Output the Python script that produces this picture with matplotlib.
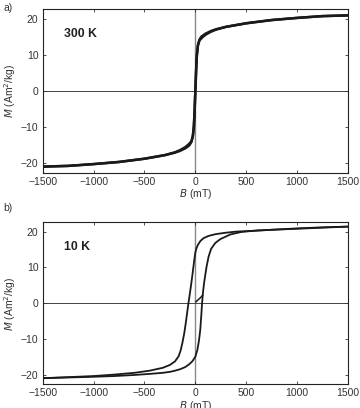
import matplotlib
matplotlib.use("Agg")
import matplotlib.pyplot as plt

plt.rcParams['font.family'] = ['Liberation Sans', 'DejaVu Sans']

# 300 K loop (descending and ascending branches)
B300_down = [1500, 1250, 1000, 750, 500, 300, 200, 150, 100, 60, 40, 25, 15, 8, 2, -3, -8, -15, -25, -40, -70, -100, -150, -200, -300, -500, -750, -1000, -1250, -1500]
M300_down = [21.1, 20.9, 20.4, 19.8, 18.9, 17.9, 17.2, 16.7, 16.0, 15.2, 14.3, 12.8, 10.0, 6.0, 1.5, -2.0, -6.0, -10.0, -12.6, -14.1, -15.0, -15.7, -16.5, -17.1, -17.9, -18.9, -19.8, -20.4, -20.9, -21.1]
B300_up = [-1500, -1250, -1000, -750, -500, -300, -200, -150, -100, -60, -40, -25, -15, -8, -2, 3, 8, 15, 25, 40, 70, 100, 150, 200, 300, 500, 750, 1000, 1250, 1500]
M300_up = [-21.1, -20.9, -20.4, -19.8, -18.9, -17.9, -17.2, -16.7, -16.0, -15.2, -14.3, -12.8, -10.0, -6.0, -1.5, 2.0, 6.0, 10.0, 12.6, 14.1, 15.0, 15.7, 16.5, 17.1, 17.9, 18.9, 19.8, 20.4, 20.9, 21.1]

# 10 K loop
B10_virgin = [5, 20, 40, 58, 72]
M10_virgin = [0.4, 0.8, 1.3, 1.8, 2.3]
B10_down = [1500, 1250, 1000, 750, 550, 400, 300, 200, 130, 82, 50, 25, 10, 0, -12, -25, -40, -55, -68, -80, -94, -110, -127, -145, -165, -200, -250, -320, -450, -600, -800, -1000, -1250, -1500]
M10_down = [21.4, 21.1, 20.8, 20.5, 20.2, 20.0, 19.7, 19.3, 18.8, 18.2, 17.4, 16.3, 15.3, 14.2, 11.8, 8.8, 5.5, 2.5, 0.0, -2.5, -5.5, -8.5, -11.0, -13.2, -14.8, -16.2, -17.2, -18.0, -18.8, -19.4, -19.9, -20.3, -20.6, -20.9]
B10_up = [-1500, -1250, -1000, -800, -600, -450, -320, -245, -200, -150, -100, -60, -30, 0, 20, 35, 48, 58, 66, 75, 85, 97, 110, 130, 155, 195, 245, 343, 450, 600, 800, 1000, 1250, 1500]
M10_up = [-20.9, -20.7, -20.5, -20.3, -20.0, -19.7, -19.4, -19.1, -18.8, -18.4, -17.8, -17.0, -16.2, -14.9, -13.0, -10.5, -7.5, -3.5, 0.0, 3.0, 5.5, 7.8, 10.2, 13.0, 15.2, 16.8, 17.9, 19.2, 19.9, 20.3, 20.6, 20.9, 21.2, 21.4]

xticks = [-1500, -1000, -500, 0, 500, 1000, 1500]
yticks = [-20, -10, 0, 10, 20]
panel_labels = ['a)', 'b)']
temp_labels = ['300 K', '10 K']

W, H = 360, 408
fig = plt.figure(figsize=(W / 100, H / 100), dpi=100)
txt = '#333333'

axes_rects = [
    [42.7 / W, (H - 172.7) / H, (348 - 42.7) / W, (172.7 - 9.3) / H],
    [42.7 / W, (H - 384.3) / H, (348 - 42.7) / W, (384.3 - 222.3) / H],
]

for i, rect in enumerate(axes_rects):
    ax = fig.add_axes(rect)
    ax.axvline(0, color='#8a8a8a', lw=1.0, zorder=1)
    ax.axhline(0, color='#444444', lw=0.7, zorder=1)
    if i == 0:
        ax.plot(B300_down, M300_down, color='#1a1a1a', lw=1.8, zorder=3)
        ax.plot(B300_up, M300_up, color='#1a1a1a', lw=1.8, zorder=3)
        ax.set_ylim(-22.8, 22.8)
    else:
        ax.plot(B10_down, M10_down, color='#1a1a1a', lw=1.3, zorder=3)
        ax.plot(B10_up, M10_up, color='#1a1a1a', lw=1.3, zorder=3)
        ax.plot(B10_virgin, M10_virgin, color='#1a1a1a', lw=1.1, zorder=3)
        ax.set_ylim(-22.6, 22.6)
    ax.set_xlim(-1500, 1500)
    ax.set_xticks(xticks)
    ax.set_yticks(yticks)
    ax.tick_params(direction='in', length=2.5, width=0.6, top=True, right=True,
                   labelsize=7.5, colors='#333333', labelcolor=txt, pad=3)
    for sp in ax.spines.values():
        sp.set_linewidth(0.8)
        sp.set_color('#222222')
    ax.set_xlabel(r'$\it{B}$ (mT)', fontsize=7.5, color=txt, labelpad=0.2)
    ax.set_ylabel(r'$\it{M}$ (Am$^2$/kg)', fontsize=7.5, color=txt, labelpad=2)
    ax.text(0.07, 0.83, temp_labels[i], transform=ax.transAxes, fontsize=8.8,
            fontweight='bold', color='#222222')
    fig.text(3 / W, 1 - (8 + 200 * i) / H, panel_labels[i], fontsize=7.5,
             color=txt, va='center', ha='left')

fig.savefig('out.png', dpi=100)
